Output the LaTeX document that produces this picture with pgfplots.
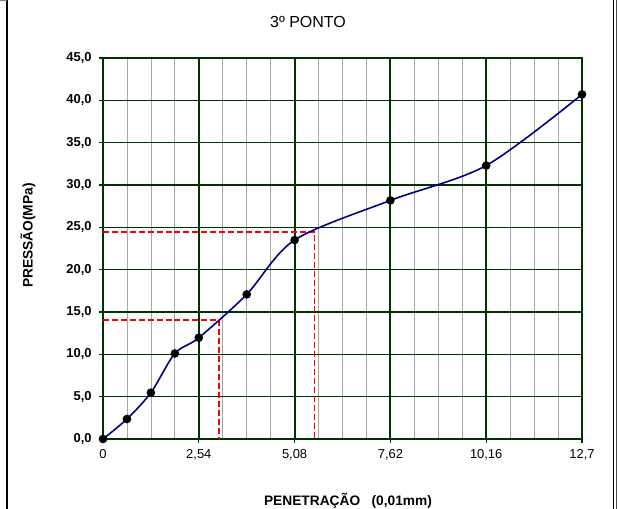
\documentclass[border=0pt]{standalone}
\usepackage{pgfplots}
\pgfplotsset{compat=1.18}
\usepackage{fontspec}
\setmainfont{Liberation Sans}
\definecolor{gridgreen}{RGB}{0,51,0}
\definecolor{navyc}{RGB}{0,0,128}
\begin{document}
\begin{tikzpicture}
\useasboundingbox (0,0) rectangle (463.5pt,381.75pt);
\begin{axis}[
  at={(77.25pt,52.5pt)}, anchor=south west,
  scale only axis, width=359.25pt, height=285.75pt,
  xmin=0, xmax=12.7, ymin=0, ymax=45,
  xtick={0,2.54,5.08,7.62,10.16,12.7},
  xticklabels={0,{2,54},{5,08},{7,62},{10,16},{12,7}},
  ytick={0,5,...,45},
  yticklabels={{0,0},{5,0},{10,0},{15,0},{20,0},{25,0},{30,0},{35,0},{40,0},{45,0}},
  minor x tick num=3,
  minor tick length=0pt,
  major tick length=3pt,
  tick align=outside,
  xtick pos=bottom, ytick pos=left,
  tick style={gridgreen, line width=0.8pt},
  grid=both,
  minor x grid style={gray!70, line width=0.6pt},
  major x grid style={gridgreen, line width=1.6pt},
  major y grid style={gridgreen, line width=1.1pt},
  axis line style={gridgreen, line width=1.6pt},
  xticklabel style={font=\fontsize{9.7}{11}\selectfont, yshift=-1pt},
  yticklabel style={font=\fontsize{9.7}{11}\selectfont\bfseries, xshift=-2pt},
  clip=false,
]
\addplot[red, line width=1.1pt, dash pattern=on 4.5pt off 2.2pt] coordinates {(0,14.05) (3.07,14.05) (3.07,0)};
\addplot[red, line width=1.1pt, dash pattern=on 4.5pt off 2.2pt] coordinates {(0,24.45) (5.605,24.45) (5.605,0)};
\addplot[navyc, line width=1.2pt, smooth, tension=0.5, mark=*, mark size=2.6pt,
  mark options={black, fill=black, solid}] coordinates {
  (0,0) (0.635,2.36) (1.27,5.47) (1.905,10.1) (2.54,11.96) (3.81,17.08)
  (5.08,23.5) (7.62,28.18) (10.16,32.3) (12.7,40.7)};
\end{axis}
\begin{scope}[x=0.75pt,y=0.75pt]
\node at (308,487) {\fontsize{12}{14}\selectfont 3º PONTO};
\node[rotate=90] at (28,273.5) {\fontsize{10.3}{12}\selectfont\bfseries PRESSÃO(MPa)};
\node at (348,8) {\fontsize{10.3}{12}\selectfont\bfseries PENETRAÇÃO\ \ \ (0,01mm)};
\draw[black, line width=1.1pt] (7,0) -- (7,509);
\draw[gray, line width=0.8pt] (0,508.5) -- (7,508.5);
\draw[black, line width=0.9pt] (613.5,0) -- (613.5,509);
\draw[black!70, line width=0.9pt] (616.8,0) -- (616.8,509);
\end{scope}
\end{tikzpicture}
\end{document}
